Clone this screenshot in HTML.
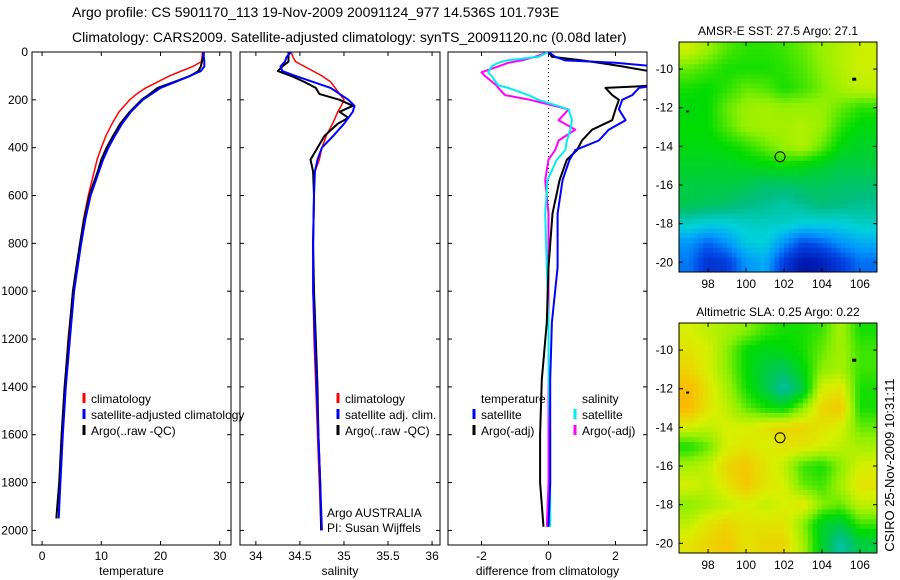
<!DOCTYPE html>
<html><head><meta charset="utf-8"><style>
body{margin:0;background:#fff;}
svg{display:block;font-family:"Liberation Sans",sans-serif;}
text{fill:#000;}
</style></head><body>
<svg id="chart" width="900" height="580" viewBox="0 0 900 580">
<text x="72" y="17" font-size="14">Argo profile: CS 5901170_113 19-Nov-2009 20091124_977 14.536S 101.793E</text>
<text x="72" y="42" font-size="14">Climatology: CARS2009. Satellite-adjusted climatology: synTS_20091120.nc (0.08d later)</text>
<text transform="translate(894,465) rotate(-90)" text-anchor="middle" font-size="13">CSIRO 25-Nov-2009 10:31:11</text>
<g id="g"></g>
</svg>
<script>
// ---- profile data ----
const tDepth=[0,20,40,60,80,100,125,150,175,200,250,300,350,400,450,500,600,700,800,900,1000,1200,1400,1600,1800,1950];
const tClim=[27.1,27.0,26.9,25.5,23.5,21.5,19.5,17.5,16.0,14.8,13.0,11.8,10.8,10.0,9.3,8.8,7.8,7.0,6.4,5.8,5.2,4.4,3.8,3.3,3.0,2.8];
const tSat=[27.3,27.3,27.4,27.4,26.8,25.0,22.5,20.0,18.5,17.0,15.0,13.5,12.3,11.2,10.3,9.6,8.2,7.3,6.6,6.0,5.4,4.7,4.0,3.5,3.1,2.8];
const tArgo=[27.2,27.2,27.0,26.8,26.4,25.0,22.3,19.5,18.2,16.8,14.8,13.2,12.0,10.9,10.0,9.4,8.0,7.1,6.4,5.8,5.2,4.5,3.8,3.3,2.9,2.4];
const sDepth=[0,20,40,60,80,100,125,150,175,200,225,250,275,300,350,400,450,500,600,800,1000,1200,1400,1600,1800,2000];
const sClim=[34.4,34.42,34.45,34.55,34.65,34.75,34.85,34.9,34.95,35.0,34.97,34.93,34.9,34.87,34.8,34.75,34.72,34.67,34.66,34.65,34.65,34.66,34.68,34.7,34.72,34.74];
const sSat=[34.4,34.35,34.33,34.28,34.3,34.45,34.65,34.85,34.95,35.05,35.12,35.1,35.05,35.0,34.88,34.75,34.7,34.67,34.66,34.65,34.65,34.67,34.69,34.71,34.73,34.75];
const sArgo=[34.37,34.37,34.37,34.3,34.25,34.4,34.55,34.68,34.72,34.95,35.1,34.95,35.05,34.93,34.78,34.7,34.62,34.65,34.66,34.65,34.66,34.68,34.7,34.71,34.73,34.74];
const dDepth=[0,20,35,45,60,85,100,140,150,180,200,240,285,325,370,410,450,535,675,900,1130,1370,1600,1800,1985];
const dTSat=[0,0.2,0.5,2.0,3.2,3.2,3.2,3.2,2.7,2.5,2.2,2.1,2.3,1.8,1.5,0.8,0.63,0.42,0.27,0.27,0.1,0.05,0.05,0.05,0.0];
const dTArgo=[0,0.1,1.0,1.5,2.2,3.2,3.2,3.2,1.7,1.9,2.1,2.0,1.9,1.3,1.0,0.85,0.55,0.33,0.12,0.0,-0.05,-0.2,-0.25,-0.25,-0.15];
const dSSat=[0,-0.3,-1.25,-1.5,-1.7,-1.8,-1.7,-1.5,-1.2,-0.6,-0.3,0.6,0.7,0.65,0.55,0.5,0.25,-0.03,-0.1,-0.05,0.0,0.0,0.05,0.05,0.05];
const dSArgo=[0,-0.4,-0.8,-1.2,-1.5,-2.0,-1.9,-1.55,-1.5,-1.3,-0.55,0.6,0.3,0.8,0.3,0.2,0.0,-0.1,0.0,0.0,0.0,0.0,0.0,0.0,-0.05];
const depthTicks=[0,200,400,600,800,1000,1200,1400,1600,1800,2000];
const tempTicks=[0,10,20,30];
const salTicks=[34,34.5,35,35.5,36];
const diffTicks=[-2,0,2];
// ---- map data (rows lat -9..-20, cols lon 97..106), colour index 0..1 ----
const mapLons=[97,98,99,100,101,102,103,104,105,106];
const mapLats=[-9,-10,-11,-12,-13,-14,-15,-16,-17,-18,-19,-20];
const sstGrid=[
[.67,.63,.59,.57,.57,.58,.60,.63,.65,.67],
[.60,.58,.56,.56,.56,.57,.59,.62,.65,.67],
[.56,.55,.57,.60,.59,.56,.58,.61,.64,.66],
[.54,.55,.60,.63,.64,.63,.63,.63,.60,.57],
[.55,.55,.59,.63,.64,.64,.65,.63,.57,.54],
[.54,.54,.55,.57,.60,.63,.65,.60,.54,.52],
[.52,.52,.52,.53,.54,.55,.54,.52,.50,.50],
[.50,.50,.50,.49,.47,.47,.48,.48,.47,.47],
[.49,.48,.47,.45,.44,.42,.44,.46,.45,.44],
[.40,.38,.38,.40,.40,.40,.38,.38,.38,.40],
[.30,.25,.30,.37,.38,.30,.22,.25,.30,.33],
[.27,.18,.20,.30,.33,.20,.12,.14,.20,.26]];
const slaGrid=[
[.68,.66,.64,.62,.58,.56,.56,.58,.64,.56],
[.70,.68,.62,.55,.53,.54,.56,.60,.64,.58],
[.72,.68,.62,.55,.50,.48,.54,.62,.64,.58],
[.76,.70,.64,.56,.50,.42,.50,.68,.70,.56],
[.76,.70,.66,.60,.56,.54,.62,.72,.74,.56],
[.68,.66,.68,.68,.70,.72,.72,.70,.68,.60],
[.56,.60,.68,.70,.68,.70,.70,.68,.66,.64],
[.64,.66,.72,.74,.70,.66,.58,.56,.62,.68],
[.68,.66,.70,.74,.70,.68,.60,.58,.64,.70],
[.62,.64,.66,.68,.66,.68,.70,.62,.60,.66],
[.66,.70,.72,.70,.70,.70,.62,.52,.50,.58],
[.70,.72,.74,.70,.72,.72,.64,.52,.42,.50]];
const mapLonTicks=[98,100,102,104,106];
const mapLatTicks=[-10,-12,-14,-16,-18,-20];
const floatLon=101.793, floatLat=-14.536;
const cmapStops=[0,0.12,0.22,0.3,0.38,0.45,0.55,0.62,0.68,0.74,0.8];
const cmapColors=[[0,0,120],[0,20,170],[0,70,230],[0,150,255],[0,210,220],[0,190,130],[0,220,0],[140,240,0],[215,240,0],[245,200,0],[255,160,0]];

const NS="http://www.w3.org/2000/svg";
const G=document.getElementById('g');
function mk(tag,attrs,parent){const e=document.createElementNS(NS,tag);for(const k in attrs)e.setAttribute(k,attrs[k]);(parent||G).appendChild(e);return e;}
function txt(x,y,s,size,anchor,parent){const t=mk('text',{x:x,y:y,'font-size':size||12,'text-anchor':anchor||'start'},parent);t.textContent=s;return t;}

const yTop=52, yBot=545;
function yD(d){return yTop+d*0.2392;}
function panel(name,x0,x1,vmin,vmax,ticks,fmt,xlabel,showY){
  const p=mk('g',{});
  
  
  const xs=v=>x0+(v-vmin)/(vmax-vmin)*(x1-x0);
  const box=mk('rect',{x:x0,y:yTop,width:x1-x0,height:yBot-yTop,fill:'none',stroke:'#000','stroke-width':1},p);
  
  
  ticks.forEach(v=>{const X=xs(v);
    mk('line',{x1:X,x2:X,y1:yBot,y2:yBot-4,stroke:'#000'},p);mk('line',{x1:X,x2:X,y1:yTop,y2:yTop+4,stroke:'#000'},p);
    const t=txt(X,560,fmt(v),12,'middle',p);
    
    });
  depthTicks.forEach(d=>{const Y=yD(d);
    mk('line',{x1:x0,x2:x0+4,y1:Y,y2:Y,stroke:'#000'},p);mk('line',{x1:x1,x2:x1-4,y1:Y,y2:Y,stroke:'#000'},p);
    if(showY){const t=txt(28,Y+4,String(d),12,'end',p);
      
      }});
  const xl=txt((x0+x1)/2,575,xlabel,12,'middle',p);
  
  
  return {g:p,xs:xs};
}
function series(P,name,depths,vals,color,w){
  const pts=depths.map((d,i)=>P.xs(vals[i]).toFixed(1)+','+yD(d).toFixed(1)).join(' ');
  const l=mk('polyline',{points:pts,fill:'none',stroke:color,'stroke-width':w||2,'stroke-linejoin':'round'},P.g);
  
  
}
function legend(P,x,y,color,label,name){
  const m=mk('line',{x1:x,x2:x,y1:y-10,y2:y,stroke:color,'stroke-width':3},P.g);
  
  
  const t=txt(x+7,y,label,12,'start',P.g);
  
  
}
// temperature
const P1=panel('temperature-panel',32,231,-1.7,31.9,tempTicks,v=>String(v),'temperature',true);
series(P1,'temp-climatology-line',tDepth,tClim,'#f00',1.5);
series(P1,'temp-argo-line',tDepth,tArgo,'#000',2);
series(P1,'temp-satellite-line',tDepth,tSat,'#00f',2);
legend(P1,84,403,'#f00','climatology','legend-climatology');
legend(P1,84,419,'#00f','satellite-adjusted climatology','legend-satellite-adjusted');
legend(P1,84,435,'#000','Argo(..raw -QC)','legend-argo');
// salinity
const P2=panel('salinity-panel',240,440,33.82,36.09,salTicks,v=>String(v),'salinity',false);
series(P2,'sal-climatology-line',sDepth,sClim,'#f00',1.5);
series(P2,'sal-argo-line',sDepth,sArgo,'#000',2);
series(P2,'sal-satellite-line',sDepth,sSat,'#00f',2);
legend(P2,338,403,'#f00','climatology','legend-sal-climatology');
legend(P2,338,419,'#00f','satellite adj. clim.','legend-sal-satellite');
legend(P2,338,435,'#000','Argo(..raw -QC)','legend-sal-argo');
let t1=txt(327,517,'Argo AUSTRALIA',12,'start',P2.g);


let t2=txt(327,532,'PI: Susan Wijffels',12,'start',P2.g);


// difference
const P3=panel('difference-panel',448,647,-3.0,2.94,diffTicks,v=>String(v),'difference from climatology',false);
const zl=mk('line',{x1:P3.xs(0),x2:P3.xs(0),y1:yTop,y2:yD(1980),stroke:'#000','stroke-dasharray':'1,3'},P3.g);


const clip=mk('clipPath',{id:'c3'},P3.g);mk('rect',{x:448,y:yTop,width:199,height:yBot-yTop},clip);
const sub=mk('g',{'clip-path':'url(#c3)'},P3.g);const P3c={g:sub,xs:P3.xs};
series(P3c,'diff-sal-argo-line',dDepth,dSArgo,'#f0f',2);
series(P3c,'diff-sal-satellite-line',dDepth,dSSat,'#0ee',2);
series(P3c,'diff-temp-argo-line',dDepth,dTArgo,'#000',2);
series(P3c,'diff-temp-satellite-line',dDepth,dTSat,'#00f',2);
let th=txt(481,403,'temperature',12,'start',P3.g);
let sh=txt(582,403,'salinity',12,'start',P3.g);
legend(P3,474,419,'#00f','satellite','legend-diff-temp-satellite');
legend(P3,474,435,'#000','Argo(-adj)','legend-diff-temp-argo');
legend(P3,575,419,'#0ee','satellite','legend-diff-sal-satellite');
legend(P3,575,435,'#f0f','Argo(-adj)','legend-diff-sal-argo');

// ---- maps ----
function cmap(v){v=Math.max(0,Math.min(0.8,v));
  let i=0;while(i<cmapStops.length-2&&v>cmapStops[i+1])i++;
  const f=(v-cmapStops[i])/(cmapStops[i+1]-cmapStops[i]);
  const a=cmapColors[i],b=cmapColors[i+1];
  return 'rgb('+[0,1,2].map(k=>Math.round(a[k]+(b[k]-a[k])*f)).join(',')+')';}
function mapPanel(name,title,grid,y0){
  const x0=679,x1=877,y1=y0+230,lonMin=96.47,lonMax=106.9,latMax=-8.6,latMin=-20.5;
  const p=mk('g',{});
  
  
  const X=l=>x0+(l-lonMin)/(lonMax-lonMin)*(x1-x0), Y=l=>y0+(latMax-l)/(latMax-latMin)*(y1-y0);
  const cp=mk('clipPath',{id:'cp'+name},p);mk('rect',{x:x0,y:y0,width:x1-x0,height:y1-y0},cp);
  const cg=mk('g',{'clip-path':'url(#cp'+name+')'},p);
  const nr=grid.length,nc=grid[0].length,S=4;
  const val=(r,c)=>grid[Math.max(0,Math.min(nr-1,r))][Math.max(0,Math.min(nc-1,c))];
  for(let r=-1;r<nr;r++)for(let c=-1;c<nc;c++)for(let i=0;i<S;i++)for(let j=0;j<S;j++){
    const fr=(i+0.5)/S,fc=(j+0.5)/S;
    const v=val(r,c)*(1-fr)*(1-fc)+val(r+1,c)*fr*(1-fc)+val(r,c+1)*(1-fr)*fc+val(r+1,c+1)*fr*fc;
    const lat0=mapLats[0]-(r+i/S), lon0=mapLons[0]+(c+j/S);
    const xA=X(lon0), yA=Y(lat0), xB=X(lon0+1/S), yB=Y(lat0-1/S);
    const cell=mk('rect',{x:xA.toFixed(1),y:yA.toFixed(1),width:(xB-xA+0.6).toFixed(1),height:(yB-yA+0.6).toFixed(1),fill:cmap(v)},cg);
    
    
  }
  const fr=mk('rect',{x:x0,y:y0,width:x1-x0,height:y1-y0,fill:'none',stroke:'#000'},p);
  
  mapLonTicks.forEach(l=>{const xx=X(l);mk('line',{x1:xx,x2:xx,y1:y1,y2:y1-4,stroke:'#000'},p);mk('line',{x1:xx,x2:xx,y1:y0,y2:y0+4,stroke:'#000'},p);
    const t=txt(xx,y1+16,String(l),12,'middle',p);});
  mapLatTicks.forEach(l=>{const yy=Y(l);mk('line',{x1:x0,x2:x0+4,y1:yy,y2:yy,stroke:'#000'},p);mk('line',{x1:x1,x2:x1-4,y1:yy,y2:yy,stroke:'#000'},p);
    const t=txt(x0-6,yy+4,String(l),12,'end',p);});
  const tt=txt((x0+x1)/2,y0-7,title,12,'middle',p);
  const c=mk('circle',{cx:X(floatLon),cy:Y(floatLat),r:5,fill:'none',stroke:'#000'},p);
  
  mk('rect',{x:X(96.9)-1,y:Y(-12.2)-1,width:3,height:2,fill:'#000'},p);
  mk('rect',{x:X(105.7)-2,y:Y(-10.5)-1,width:4,height:3,fill:'#000'},p);
}
mapPanel('sst-map','AMSR-E SST: 27.5 Argo: 27.1',sstGrid,42);
mapPanel('sla-map','Altimetric SLA: 0.25 Argo: 0.22',slaGrid,323);
</script>
</body></html>
